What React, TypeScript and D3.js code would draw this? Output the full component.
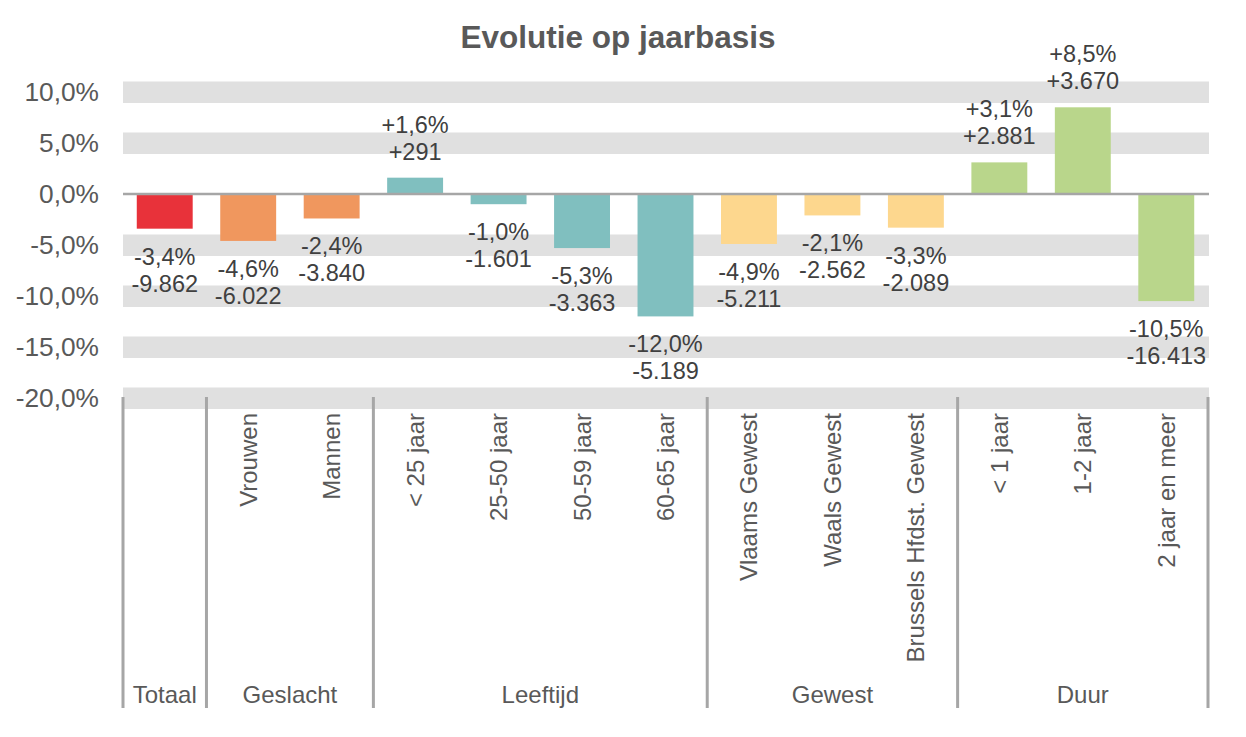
import React from "react";
import * as d3 from "d3";

// categories and values
const categories = [
  "Totaal",
  "Vrouwen",
  "Mannen",
  "< 25 jaar",
  "25-50 jaar",
  "50-59 jaar",
  "60-65 jaar",
  "Vlaams Gewest",
  "Waals Gewest",
  "Brussels Hfdst. Gewest",
  "< 1 jaar",
  "1-2 jaar",
  "2 jaar en meer",
];
const pctChange = [-3.4, -4.6, -2.4, 1.6, -1.0, -5.3, -12.0, -4.9, -2.1, -3.3, 3.1, 8.5, -10.5];
const absChange = [-9862, -6022, -3840, 291, -1601, -3363, -5189, -5211, -2562, -2089, 2881, 3670, -16413];

const groups = ["Totaal", "Geslacht", "Leeftijd", "Gewest", "Duur"];
const groupSizes = [1, 2, 4, 3, 3];
const groupColors = ["#e8323a", "#f0975e", "#80bfbf", "#fdd78e", "#b9d68b"];

const yTicks = [10, 5, 0, -5, -10, -15, -20];

const W = 1246;
const H = 737;
const left = 123;
const right = 1208;
const axisBottom = 397;
const groupBottom = 708;

const nl = d3.formatLocale({
  decimal: ",",
  thousands: ".",
  grouping: [3],
  currency: ["€", ""],
  minus: "-",
});
const fmtTick = nl.format(".1f");
const fmtPct = nl.format("+.1f");
const fmtAbs = nl.format("+,d");

const App: React.FC = () => {
  const x = d3
    .scaleBand<string>()
    .domain(categories)
    .range([left, right])
    .paddingInner(0.33)
    .paddingOuter(0.165);

  const y = d3.scaleLinear().domain([-20, 10]).range([398, 92]);

  const step = x.step();
  const slotStart = (i: number) => left + i * step;

  // group index per category
  const groupOf: number[] = [];
  groupSizes.forEach((n, g) => {
    for (let k = 0; k < n; k++) groupOf.push(g);
  });
  const groupStarts = groupSizes.map((_, g) =>
    d3.sum(groupSizes.slice(0, g))
  );

  const labelColor = "#404040";
  const axisText = "#595959";
  const font = "'Liberation Sans', Arial, sans-serif";

  return (
    <svg
      width={W}
      height={H}
      style={{ position: "absolute", left: 0, top: 0, background: "#fff" }}
      fontFamily={font}
    >
      <text
        x={618}
        y={37}
        textAnchor="middle"
        dominantBaseline="central"
        fontSize={31.5}
        fontWeight="bold"
        fill={axisText}
      >
        Evolutie op jaarbasis
      </text>

      {/* banded gridlines */}
      {yTicks
        .filter((t) => t !== 0)
        .map((t) => (
          <rect
            key={"band" + t}
            x={left}
            width={right + 1 - left}
            y={y(t) - 10.5}
            height={21.5}
            fill="#e0e0e0"
          />
        ))}

      {/* y tick labels */}
      {yTicks.map((t) => (
        <text
          key={"tick" + t}
          x={99}
          y={y(t)}
          textAnchor="end"
          dominantBaseline="central"
          fontSize={26.3}
          fill={axisText}
        >
          {fmtTick(t) + "%"}
        </text>
      ))}

      {/* bars */}
      {categories.map((c, i) => {
        const v = pctChange[i];
        return (
          <rect
            key={"bar" + c}
            x={x(c)}
            width={x.bandwidth()}
            y={Math.min(y(v), y(0))}
            height={Math.abs(y(v) - y(0))}
            fill={groupColors[groupOf[i]]}
          />
        );
      })}

      {/* zero line */}
      <line
        x1={left}
        x2={right + 1}
        y1={y(0)}
        y2={y(0)}
        stroke="#a6a6a6"
        strokeWidth={2.5}
      />

      {/* data labels */}
      {categories.map((c, i) => {
        const v = pctChange[i];
        const cx = (x(c) || 0) + x.bandwidth() / 2;
        const y1 = v >= 0 ? y(v) - 53 : y(v) + 28;
        const y2 = v >= 0 ? y(v) - 26 : y(v) + 55;
        return (
          <g key={"lbl" + c} fontSize={23.5} fill={labelColor} textAnchor="middle">
            <text x={cx} y={y1} dominantBaseline="central">
              {fmtPct(v) + "%"}
            </text>
            <text x={cx} y={y2} dominantBaseline="central">
              {fmtAbs(absChange[i])}
            </text>
          </g>
        );
      })}

      {/* group separators */}
      {[...groupStarts, categories.length].map((s) => (
        <line
          key={"sep" + s}
          x1={slotStart(s)}
          x2={slotStart(s)}
          y1={axisBottom}
          y2={groupBottom}
          stroke="#a6a6a6"
          strokeWidth={3}
        />
      ))}

      {/* category labels (rotated) */}
      {categories.map((c, i) =>
        groupSizes[groupOf[i]] > 1 ? (
          <text
            key={"cat" + c}
            transform={`translate(${(x(c) || 0) + x.bandwidth() / 2},413) rotate(-90)`}
            textAnchor="end"
            dominantBaseline="central"
            fontSize={24}
            fill={axisText}
          >
            {c}
          </text>
        ) : null
      )}

      {/* group labels */}
      {groups.map((g, gi) => {
        const s = groupStarts[gi];
        const e = s + groupSizes[gi];
        return (
          <text
            key={"grp" + g}
            x={(slotStart(s) + slotStart(e)) / 2}
            y={694}
            textAnchor="middle"
            dominantBaseline="central"
            fontSize={24}
            fill={axisText}
          >
            {g}
          </text>
        );
      })}
    </svg>
  );
};

export default App;
